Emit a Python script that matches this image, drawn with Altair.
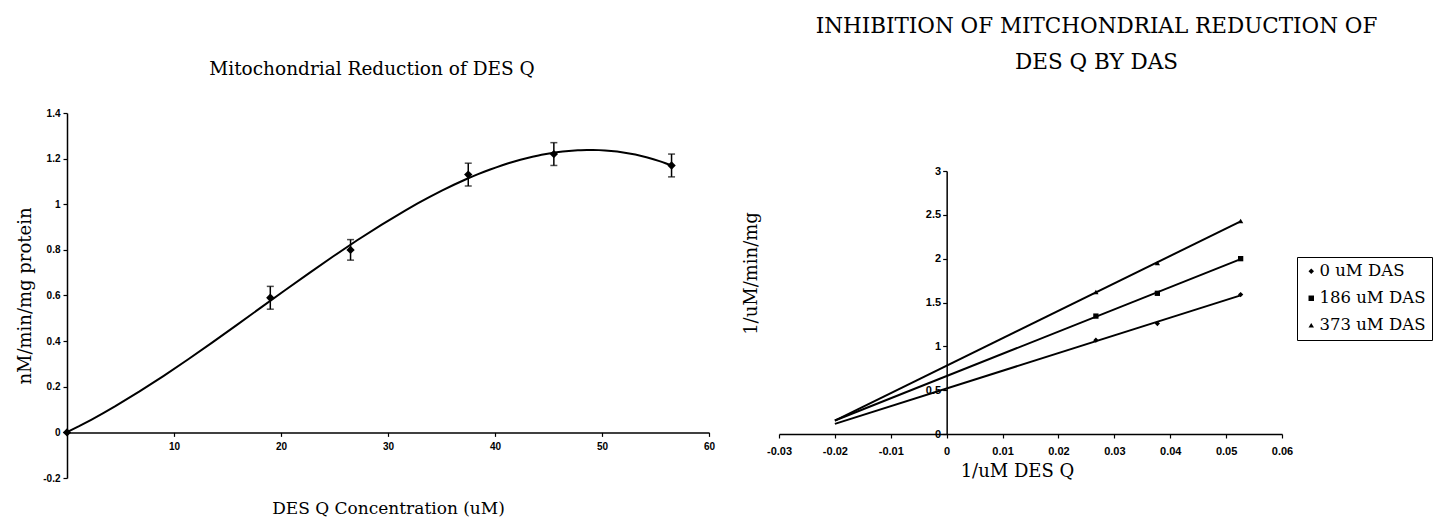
import altair as alt
import pandas as pd

# ---------------- data ----------------
# Left panel: Mitochondrial reduction of DES Q
conc = [0, 19, 26.5, 37.5, 45.5, 56.5]
rate = [0, 0.59, 0.80, 1.13, 1.22, 1.17]
rate_err = [0, 0.05, 0.045, 0.05, 0.05, 0.05]
left_x_ticks = [10, 20, 30, 40, 50, 60]
left_y_ticks = [-0.2, 0, 0.2, 0.4, 0.6, 0.8, 1.0, 1.2, 1.4]

# Right panel: Lineweaver-Burk plot, inhibition by DAS
series_names = ["0 uM DAS", "186 uM DAS", "373 uM DAS"]
inv_conc = [0.0267, 0.0377, 0.0526]
inv_rate_0 = [1.07, 1.26, 1.59]
inv_rate_186 = [1.345, 1.605, 2.0]
inv_rate_373 = [1.62, 1.95, 2.43]
right_x_ticks = [-0.03, -0.02, -0.01, 0, 0.01, 0.02, 0.03, 0.04, 0.05, 0.06]
right_y_ticks = [0, 0.5, 1, 1.5, 2, 2.5, 3]
trend_extent = [-0.02, 0.0526]

# ---------------- tables ----------------
left_df = pd.DataFrame({
    "conc": conc,
    "rate": rate,
    "lo": [r - e for r, e in zip(rate, rate_err)],
    "hi": [r + e for r, e in zip(rate, rate_err)],
    "err": rate_err,
})
rows = []
for name, vals in zip(series_names, [inv_rate_0, inv_rate_186, inv_rate_373]):
    for xv, yv in zip(inv_conc, vals):
        rows.append({"inv": xv, "val": yv, "series": name})
right_df = pd.DataFrame(rows)

# ---------------- layout numbers ----------------
SERIF = "DejaVu Serif"
LW, LH = 642, 365
RW, RH = 503, 365
left_x_offset = -(LH - LH * 1.4 / 1.6)      # x axis drawn at y = 0
right_y_top, right_y_bottom = 58, 321       # pixel range of the right y scale
right_x_offset = -(RH - right_y_bottom)
right_y_offset = -(RW * 0.03 / 0.09)        # y axis drawn at x = 0

minus_fix = "replace(datum.label, '\u2212', '-')"

# ---------------- left chart ----------------
def xl():
    return alt.X("conc:Q", scale=alt.Scale(domain=[0, 60], nice=False),
                 axis=alt.Axis(values=left_x_ticks, offset=left_x_offset,
                               labelFlush=False, labelOverlap=False,
                               title="DES Q Concentration (uM)", titleY=68,
                               labelPadding=5, titleFontSize=17))

def yl(field="rate"):
    return alt.Y(f"{field}:Q", scale=alt.Scale(domain=[-0.2, 1.4], nice=False),
                 axis=alt.Axis(values=left_y_ticks, format="~g", labelExpr=minus_fix,
                               labelOverlap=False,
                               title="nM/min/mg protein", titleX=-33,
                               labelPadding=3, titleFontSize=18))

lbase = alt.Chart(left_df)
curve = lbase.transform_regression(
    "conc", "rate", method="poly", order=3, extent=[0, 56.5]
).mark_line(color="black", strokeWidth=2).encode(x=xl(), y=yl())
ebars = lbase.transform_filter("datum.err > 0").mark_rule(
    color="black", strokeWidth=1.5).encode(x=xl(), y=yl("lo"), y2="hi:Q")
cap_lo = lbase.transform_filter("datum.err > 0").mark_tick(
    color="black", orient="horizontal", size=7, thickness=1.5).encode(x=xl(), y=yl("lo"))
cap_hi = lbase.transform_filter("datum.err > 0").mark_tick(
    color="black", orient="horizontal", size=7, thickness=1.5).encode(x=xl(), y=yl("hi"))
lpts = lbase.mark_point(shape="diamond", filled=True, size=70, color="black",
                        opacity=1).encode(x=xl(), y=yl())

left = alt.layer(curve, ebars, cap_lo, cap_hi, lpts).properties(
    width=LW, height=LH,
    title=alt.TitleParams("Mitochondrial Reduction of DES Q", fontSize=18.5,
                          anchor="middle", offset=30, dx=-16),
)

# ---------------- right chart ----------------
def xr():
    return alt.X("inv:Q", scale=alt.Scale(domain=[-0.03, 0.06], nice=False),
                 axis=alt.Axis(values=right_x_ticks, format="~g", labelExpr=minus_fix,
                               labelFlush=False, labelOverlap=False,
                               offset=right_x_offset, labelPadding=7,
                               labelFontSize=11, title="1/uM DES Q",
                               titleX=238, titleY=28, titleFontSize=18))

def yr():
    return alt.Y("val:Q", scale=alt.Scale(domain=[0, 3], nice=False,
                                          range=[right_y_bottom, right_y_top]),
                 axis=alt.Axis(values=right_y_ticks, format="~g",
                               labelOverlap=False,
                               offset=right_y_offset, labelPadding=2,
                               labelFontSize=11, title="1/uM/min/mg",
                               titleX=-186, titleY=160, titleFontSize=18))

rbase = alt.Chart(right_df)
rlines = rbase.transform_regression(
    "inv", "val", groupby=["series"], extent=trend_extent
).mark_line(color="black", strokeWidth=2).encode(x=xr(), y=yr(), detail="series:N")
rpts = rbase.mark_point(filled=True, size=28, color="black", opacity=1).encode(
    x=xr(), y=yr(),
    shape=alt.Shape("series:N",
                    scale=alt.Scale(domain=series_names,
                                    range=["diamond", "square", "triangle-up"]),
                    legend=alt.Legend(title=None, orient="none", legendX=1230,
                                      legendY=144, strokeColor="black",
                                      fillColor="white", padding=6,
                                      labelFont=SERIF,
                                      labelFontWeight="normal",
                                      labelFontSize=16.5, labelColor="black",
                                      symbolSize=30, symbolFillColor="black",
                                      symbolStrokeColor="black",
                                      symbolStrokeWidth=0,
                                      rowPadding=10, labelOffset=0)),
)

right = alt.layer(rlines, rpts).properties(
    width=RW, height=RH,
    title=alt.TitleParams(["INHIBITION OF MITCHONDRIAL REDUCTION OF", "DES Q BY DAS"],
                          fontSize=21.5, lineHeight=36, anchor="middle",
                          offset=40, dx=66),
)

chart = alt.hconcat(left, right, spacing=70, bounds="flush").properties(
    padding={"left": 16, "top": 15, "right": 0, "bottom": 0}
).configure_view(stroke=None).configure_axis(
    grid=False, domainColor="black", domainWidth=1.5, tickColor="black",
    tickWidth=1.2, tickSize=4, labelColor="black", labelFont="Liberation Sans",
    labelFontWeight="bold", labelFontSize=10, titleFont=SERIF,
    titleFontWeight="normal", titleColor="black",
).configure_legend(symbolSize=30, symbolStrokeWidth=0).configure_title(
    font=SERIF, fontWeight="normal", color="black")

chart.save("out.html", embed_options={"renderer": "svg", "actions": False})
